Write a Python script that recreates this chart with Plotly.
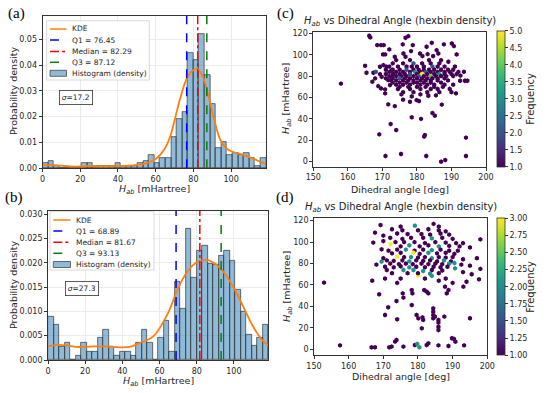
import plotly.graph_objects as go

# ---------------- data ----------------
H_MIN, H_MAX, N_BINS = 0.0, 118.5, 40

HIST_A = [0.002, 0.003, 0.001, 0, 0, 0, 0, 0.002, 0.002, 0.001,
          0.001, 0.001, 0.001, 0.002, 0.001, 0.001, 0.001, 0.002, 0.003, 0.005,
          0.002, 0.004, 0.004, 0.0123, 0.019, 0.022, 0.0446, 0.042, 0.052, 0.036,
          0.025, 0.008, 0.010, 0.005, 0.006, 0.005, 0.006, 0.004, 0.001, 0.004]
HIST_B = [0.009, 0.0072, 0.0027, 0.0036, 0, 0.0009, 0.0036, 0.0018, 0.0018, 0.0045,
          0.0063, 0.0027, 0.0009, 0.0018, 0.0018, 0.0009, 0.0036, 0.0063, 0.0036, 0,
          0.0045, 0.0081, 0.0018, 0.016, 0.0105, 0.027, 0.017, 0.0225, 0.0235, 0.0198,
          0.0197, 0.0215, 0.0225, 0.0205, 0.0145, 0.0100, 0.0052, 0.0029, 0.0046, 0.0072]

KDE_A_X = [0, 5, 10, 15, 20, 25, 30, 35, 40, 45, 50, 55, 60, 65, 68, 70.5, 73, 76, 79, 82,
           85, 88, 91, 94, 97, 100, 105, 110, 115, 118.5]
KDE_A_Y = [0.0012, 0.0013, 0.0010, 0.0007, 0.0007, 0.0009, 0.0008, 0.0008, 0.0009, 0.0010,
           0.0013, 0.0020, 0.0036, 0.0078, 0.013, 0.020, 0.027, 0.034, 0.0375, 0.0385,
           0.0355, 0.028, 0.019, 0.0115, 0.008, 0.0066, 0.0055, 0.0042, 0.0027, 0.0016]
KDE_B_X = [0, 5, 10, 15, 20, 25, 30, 35, 40, 45, 50, 55, 58, 60, 65, 70, 75, 80, 85, 90,
           95, 100, 105, 110, 115, 118.5]
KDE_B_Y = [0.0028, 0.0031, 0.0030, 0.0027, 0.0027, 0.0028, 0.0028, 0.0027, 0.0026, 0.0028,
           0.0036, 0.0044, 0.0054, 0.0065, 0.0100, 0.0148, 0.0182, 0.0201, 0.0206, 0.0198,
           0.0178, 0.0148, 0.0110, 0.0071, 0.0042, 0.0030]

Q_A = [76.45, 82.29, 87.12]
Q_B = [68.89, 81.67, 93.13]
SIGMA = [17.2, 27.3]

# hexbin cells of panel (c): dihedral angle, H_ab, count
HEX_C_X = [158.0, 166.2, 166.5, 168.5, 169.6, 170.4, 170.2, 170.8, 172.0, 176.7, 177.5, 175.9, 178.3,
           176.1, 176.7, 178.8, 180.9, 181.6, 182.8, 184.3, 185.7, 186.2, 187.8, 190.1, 190.7, 191.5,
           189.1, 173.6, 183.1, 184.7,
           165.0, 165.4, 167.4, 168.1, 167.1, 167.9, 168.8, 169.6, 169.3, 169.8, 170.8, 171.2, 170.3,
           171.7, 172.2, 170.8, 172.7, 173.2, 172.7, 169.3,
           174, 178, 183.5, 187,
           173, 176, 179, 181.5, 184, 186.5,
           172, 174.5, 177, 178.5, 180, 182, 184.5, 186, 188, 191,
           171, 173, 175, 177, 179, 180.5, 182, 183.5, 185, 187, 189, 190.5,
           172, 174, 176, 178, 179.5, 181, 182.5, 184, 186, 188, 189.5, 192,
           171, 173, 175, 176.5, 178, 180, 181.5, 183, 185, 186.5, 188, 190, 191.5,
           172, 174, 175.5, 177, 179, 180.5, 182, 184, 185.5, 187, 188.5, 190.5,
           171, 173, 175, 176.5, 178, 180, 181.5, 183, 184.5, 186, 188,
           172.5, 174, 176, 177.5, 179, 181, 182.5, 184, 186, 189,
           173, 175, 177, 179, 180, 182, 184, 187,
           174, 176, 178, 181, 183, 185, 188,
           175, 177.5, 180, 182.5, 185, 187.5,
           174.5, 178, 181, 184, 186,
           176, 179, 183, 186.5, 190,
           192.5, 193.9, 194.6, 193.6, 191.3, 192.6, 190.5, 189.5,
           176, 178, 179.9, 180.6, 171.7, 173.6, 183.3, 185.5, 187.2, 178.5, 181.2, 184.5, 185.2,
           175.5, 181, 178.5,
           172.4, 174, 169.1, 182.1, 182.3, 194.2, 170.9, 175.4, 182.7, 187, 188.2, 194.2]
HEX_C_Y = [73, 117.8, 116.2, 109, 109, 109, 100.3, 100.3, 105, 115.9, 117.4, 109.7, 103.4,
           101.2, 98.1, 109, 101.2, 98.8, 107.5, 111.2, 104.4, 101.2, 109.7, 110.6, 108.1, 100.3,
           93.5, 98.1, 100.6, 98.8,
           89.7, 83.2, 83.2, 84.1, 74.8, 77.9, 70.7, 68.5, 81.9, 79.4, 63.9, 88.8, 90.3,
           76.3, 71.7, 67.6, 85.7, 81.9, 78.8, 88.8,
           95, 95, 95, 95,
           92, 92, 92, 92, 92, 92,
           89, 89, 89, 89, 89, 89, 89, 89, 89, 89,
           86, 86, 86, 86, 86, 86, 86, 86, 86, 86, 86, 86,
           84, 84, 84, 84, 84, 84, 84, 84, 84, 84, 84, 84,
           82, 82, 82, 82, 82, 82, 82, 82, 82, 82, 82, 82, 82,
           80, 80, 80, 80, 80, 80, 80, 80, 80, 80, 80, 80,
           78, 78, 78, 78, 78, 78, 78, 78, 78, 78, 78,
           76, 76, 76, 76, 76, 76, 76, 76, 76, 76,
           74, 74, 74, 74, 74, 74, 74, 74,
           72, 72, 72, 72, 72, 72, 72,
           70, 70, 70, 70, 70, 70,
           68, 68, 68, 68, 68,
           65, 65, 65, 65, 65,
           75.7, 75.7, 75.7, 84.1, 63.9, 80.5, 72, 68,
           58, 56, 57.6, 56.7, 53.6, 52, 61.7, 62, 53.4, 41.5, 40, 45.5, 43,
           63, 63, 61,
           35.2, 29.6, 25.5, 23.4, 24.9, 22.5, 5.3, 7.2, 5.3, 0, 1.5, 5.3]
HEX_C_N = [1, 1, 1, 1, 1, 1, 1, 1, 1, 1, 1, 1, 1,
           1, 1, 1, 1, 1, 1, 1, 1, 1, 1, 1, 1, 1,
           1, 1, 1, 1,
           1, 1, 1, 2, 1, 1, 1, 1, 1, 1, 1, 1, 1,
           1, 1, 1, 1, 1, 1, 1,
           1, 1, 1, 1,
           1, 1, 2, 1, 1, 1,
           1, 1, 1, 1, 1, 1, 2, 1, 1, 1,
           1, 1, 1, 2, 1, 1, 1, 1, 1, 1, 1, 1,
           1, 1, 1, 1, 3, 1, 2, 1, 1, 1, 1, 1,
           1, 1, 1, 1, 2, 1, 5, 1, 1, 3, 1, 1, 1,
           1, 1, 1, 1, 1, 2, 1, 4, 1, 1, 1, 1,
           1, 1, 2, 1, 1, 1, 1, 1, 1, 1, 1,
           1, 1, 1, 1, 1, 1, 1, 1, 1, 1,
           1, 1, 1, 1, 1, 1, 1, 1,
           1, 1, 1, 1, 1, 1, 1,
           1, 1, 1, 1, 1, 1,
           1, 1, 1, 1, 1,
           1, 1, 1, 1, 1,
           1, 1, 1, 1, 1, 1, 1, 1,
           1, 1, 1, 1, 1, 1, 1, 1, 1, 1, 1, 1, 1,
           1, 1, 1,
           1, 1, 1, 1, 1, 1, 1, 1, 1, 1, 1, 1]

# hexbin cells of panel (d)
HEX_D_X = [152.9, 157.5, 166.6, 167.6, 166.8, 168.8, 170.5, 171.4, 174.0, 173.8, 175.8, 175.6,
           178.2, 178.4, 178.2, 179.6, 180.1, 181.1, 181.8, 182.5, 183.0,
           184.4, 184.4, 184.4, 184.4, 185.9, 185.9, 185.9, 185.9, 184.9, 187.6,
           188.8, 188.3, 187.8, 193.1, 195.0, 181.3, 181.5,
           172.4, 173.4, 173.8, 171.7, 175.8, 179.1, 179.8, 180.4, 182.5, 183.0, 185.9, 188.8,
           189.8, 190.4, 190.8, 193.3,
           174.0, 180.1, 184.0, 188.0, 190.0, 175.0, 182.0, 186.0, 170.5, 194.0, 197.6,
           169.2, 175.0, 179.1, 184.5, 186.0,
           172.5, 175.5, 180.0, 183.0, 186.0, 188.0,
           167.6, 170.0, 174.0, 177.0, 181.0, 183.5, 186.5, 189.0,
           172.0, 175.5, 178.0, 181.5, 184.0, 187.0, 190.0, 198.0,
           167.1, 170.0, 173.5, 176.0, 179.0, 182.0, 185.0, 188.0, 191.0, 193.0,
           172.1, 175.0, 177.5, 180.5, 183.0, 186.0, 189.0, 192.0, 195.0,
           169.5, 171.5, 174.0, 176.5, 179.0, 181.5, 184.0, 186.5, 189.0, 191.5,
           172.5, 175.0, 178.7, 180.5, 183.0, 185.5, 188.0, 190.5,
           170.0, 174.0, 176.0, 178.0, 180.0, 182.0, 184.0, 186.0, 188.0, 190.0, 193.0, 197.0,
           171.0, 173.0, 175.5, 177.5, 179.5, 181.5, 183.5, 185.5, 187.5, 189.5,
           168.0, 169.5, 172.0, 174.5, 176.5, 178.5, 181.0, 183.0, 185.0, 187.0, 189.0, 190.5,
           192.5, 195.0, 198.0,
           170.5, 173.0, 175.0, 177.5, 179.5, 182.0, 184.5, 186.5, 188.5,
           171.0, 175.8, 178.7, 181.5, 184.0, 187.0, 190.7, 193.0,
           172.5, 177.0, 180.0, 183.5, 186.0, 195.5]
HEX_D_Y = [62.2, 3.7, 1.9, 1.9, 64.0, 51.3, 32.0, 39.2, 28.0, 45.0, 48.2, 52.2,
           55.3, 52.2, 41.3, 32.0, 28.9, 19.6, 55.3, 53.8, 52.2,
           38.2, 35.1, 32.0, 28.9, 27.4, 24.9, 21.1, 18.0, 30.5, 30.5,
           55.3, 52.2, 58.4, 58.4, 29.0, 29.8, 27.4,
           2.5, 7.2, 8.7, 1.9, 2.5, 4.0, 5.0, 1.9, 4.0, 5.6, 3.7, 3.1,
           10.3, 9.6, 7.1, 3.7,
           62.0, 68.7, 68.5, 66.0, 62.0, 66.0, 66.0, 64.0, 66.0, 63.0, 65.3,
           115.9, 114.5, 115.3, 117.0, 114.5,
           112.0, 111.0, 111.0, 112.0, 111.0, 110.0,
           108.8, 106.0, 108.0, 107.5, 107.5, 107.0, 108.0, 107.0,
           104.0, 103.0, 104.0, 104.0, 103.5, 104.0, 103.0, 102.5,
           99.5, 101.0, 100.0, 100.0, 100.0, 99.0, 100.0, 99.5, 99.0, 99.0,
           98.2, 96.0, 97.0, 96.0, 97.0, 96.0, 96.5, 96.0, 95.0,
           93.3, 92.0, 93.0, 93.0, 92.0, 93.0, 92.5, 93.0, 92.0, 92.0,
           89.5, 90.0, 90.1, 89.0, 90.0, 89.5, 90.0, 89.0,
           85.0, 86.4, 86.0, 86.0, 85.5, 86.0, 85.0, 86.0, 85.5, 86.0, 84.0, 85.0,
           83.0, 82.5, 83.0, 82.0, 83.0, 82.5, 83.0, 82.0, 83.0, 82.0,
           79.0, 81.8, 80.0, 79.5, 80.0, 79.5, 80.0, 79.5, 80.0, 79.5, 80.0, 80.5,
           79.0, 78.0, 75.0,
           77.0, 76.5, 77.5, 76.5, 77.0, 76.5, 77.0, 76.5, 77.0,
           74.0, 74.0, 74.0, 73.0, 74.0, 73.5, 75.5, 72.0,
           71.0, 71.0, 71.0, 70.5, 71.0, 70.0]
HEX_D_N = [1, 1, 1, 1, 1, 1, 1, 1, 1, 1, 1, 1,
           1, 1, 1, 1, 1, 1, 1, 1, 1,
           1, 1, 1, 1, 1, 1, 1, 1, 1, 1,
           1, 1, 1, 1, 1, 1, 1,
           1, 1, 1, 1, 1, 1, 2, 2, 1, 1, 1, 1,
           1, 1, 1, 1,
           1, 3, 2, 1, 1, 1, 1, 1, 1, 1, 1,
           1, 1, 2, 1, 1,
           1, 1, 1, 1, 1, 1,
           1, 1, 1, 1, 1, 1, 1, 1,
           1, 1, 1, 1, 2, 1, 1, 1,
           1, 1, 1, 1, 1, 1, 1, 1, 1, 1,
           3, 1, 2, 1, 1, 2, 1, 1, 1,
           1, 1, 1, 2, 1, 1, 2, 1, 1, 1,
           1, 1, 3, 1, 2, 1, 1, 1,
           1, 3, 1, 2, 1, 1, 2, 1, 1, 1, 1, 1,
           1, 1, 1, 2, 1, 1, 1, 1, 2, 1,
           1, 2, 1, 1, 1, 1, 1, 1, 1, 1, 2, 2,
           1, 1, 1,
           1, 1, 1, 2, 1, 1, 1, 1, 1,
           1, 2, 2, 2, 1, 1, 2, 1,
           1, 1, 1, 2, 1, 1]

# ---------------- figure ----------------
W, H = 550, 393
FONT = "DejaVu Sans"
AX_COL = "#333333"
TXT = "#262626"
BAR_COL = "rgba(31,119,180,0.5)"
KDE_COL = "#ff7f0e"
Q_STYLES = [("Q1", "#0000ff", "dash"), ("Median", "#ff0000", "dashdot"), ("Q3", "#008000", "dash")]


def px_x(p):
    return p / W


def px_y(p):
    return 1 - p / H


bin_w = (H_MAX - H_MIN) / N_BINS
centers = [H_MIN + bin_w * (i + 0.5) for i in range(N_BINS)]

fig = go.Figure()

panels = [
    dict(hist=HIST_A, kx=KDE_A_X, ky=KDE_A_Y, q=Q_A, xa="x", ya="y", ymax=0.059),
    dict(hist=HIST_B, kx=KDE_B_X, ky=KDE_B_Y, q=Q_B, xa="x2", ya="y2", ymax=0.0307),
]
for p in panels:
    fig.add_trace(go.Bar(x=centers, y=p["hist"], width=bin_w,
                         marker=dict(color=BAR_COL, line=dict(color=AX_COL, width=0.7)),
                         xaxis=p["xa"], yaxis=p["ya"], showlegend=False))
    fig.add_trace(go.Scatter(x=p["kx"], y=p["ky"], mode="lines",
                             line=dict(color=KDE_COL, width=1.8, shape="spline", smoothing=1.0),
                             xaxis=p["xa"], yaxis=p["ya"], showlegend=False))
    for val, (lab, col, dash) in zip(p["q"], Q_STYLES):
        fig.add_trace(go.Scatter(x=[val, val], y=[0, p["ymax"]], mode="lines",
                                 line=dict(color=col, width=1.5, dash=dash),
                                 xaxis=p["xa"], yaxis=p["ya"], showlegend=False))


def cbar(ycen, length, tickvals, fmt):
    return dict(x=px_x(496.7), xanchor="left", y=px_y(ycen), yanchor="middle",
                len=length / H, thickness=8.3, xpad=0, ypad=0,
                outlinewidth=0.8, outlinecolor=AX_COL,
                tickvals=tickvals, tickformat=fmt, ticks="outside", ticklen=3, tickcolor=AX_COL,
                tickfont=dict(size=8, family=FONT, color=TXT))


fig.add_trace(go.Scatter(x=HEX_C_X, y=HEX_C_Y, mode="markers", xaxis="x3", yaxis="y3", showlegend=False,
                         marker=dict(symbol="hexagon", size=4.8, color=HEX_C_N, colorscale="Viridis", cmin=1, cmax=5,
                                     line=dict(width=0),
                                     colorbar=cbar(98.7, 136, [1.0, 1.5, 2.0, 2.5, 3.0, 3.5, 4.0, 4.5, 5.0], ".1f"))))
fig.add_trace(go.Scatter(x=HEX_D_X, y=HEX_D_Y, mode="markers", xaxis="x4", yaxis="y4", showlegend=False,
                         marker=dict(symbol="hexagon", size=4.8, color=HEX_D_N, colorscale="Viridis", cmin=1, cmax=3,
                                     line=dict(width=0),
                                     colorbar=cbar(286.7, 136.7, [1.0, 1.25, 1.5, 1.75, 2.0, 2.25, 2.5, 2.75, 3.0], ".2f"))))


def axis(domain, rng, anchor, tickvals, fmt=None, grid=False):
    d = dict(domain=domain, range=rng, anchor=anchor, tickvals=tickvals, automargin=False,
             showline=True, mirror=True, linecolor=AX_COL, linewidth=0.8,
             ticks="outside", ticklen=3, tickcolor=AX_COL, tickwidth=0.8,
             tickfont=dict(size=8, family=FONT, color=TXT),
             showgrid=grid, gridcolor="#ebebeb", gridwidth=0.7, zeroline=False, fixedrange=True)
    if fmt:
        d["tickformat"] = fmt
    return d


fig.update_layout(
    width=W, height=H, margin=dict(l=0, r=0, t=0, b=0, autoexpand=False),
    paper_bgcolor="white", plot_bgcolor="white", bargap=0, showlegend=False,
    font=dict(family=FONT, color=TXT),
    xaxis=axis([px_x(42.5), px_x(266)], [0, H_MAX], "y", [0, 20, 40, 60, 80, 100], grid=True),
    yaxis=axis([px_y(168.3), px_y(16)], [0, 0.059], "x", [0, 0.01, 0.02, 0.03, 0.04, 0.05], ".2f", grid=True),
    xaxis2=axis([px_x(48), px_x(268.3)], [0, H_MAX], "y2", [0, 20, 40, 60, 80, 100], grid=True),
    yaxis2=axis([px_y(360), px_y(210.7)], [0, 0.0307], "x2", [0, 0.005, 0.01, 0.015, 0.02, 0.025, 0.03], ".3f", grid=True),
    xaxis3=axis([px_x(313.3), px_x(486)], [150, 200], "y3", [150, 160, 170, 180, 190, 200]),
    yaxis3=axis([px_y(166.7), px_y(31.7)], [-4.7, 121.6], "x3", [0, 20, 40, 60, 80, 100, 120]),
    xaxis4=axis([px_x(314), px_x(487.3)], [150, 200], "y4", [150, 160, 170, 180, 190, 200]),
    yaxis4=axis([px_y(355), px_y(218.3)], [-5.3, 122.2], "x4", [0, 20, 40, 60, 80, 100, 120]),
)

ann = []
shapes = []


def text(t, x, y, size, angle=0, anchor="center", color=TXT, family=FONT, **kw):
    ann.append(dict(text=t, x=px_x(x), y=px_y(y), xref="paper", yref="paper", showarrow=False,
                    font=dict(size=size, family=family, color=color), textangle=angle,
                    xanchor=anchor, yanchor="middle", **kw))


# panel letters
for lab, x, y in [("(a)", 16, 14), ("(b)", 14, 197), ("(c)", 285, 14), ("(d)", 285, 197)]:
    text(lab, x, y, 15, family="Liberation Serif", color="black")

# axis titles
HLAB = "<i>H</i><sub><i>ab</i></sub> [mHartree]"
text("Probability density", 13, 91, 9.5, angle=-90)
text(HLAB, 154, 189.5, 9.5)
text("Probability density", 13, 285, 9.5, angle=-90)
text(HLAB, 158, 381, 9.5)
text(HLAB, 287, 99, 9.5, angle=-90)
text("Dihedral angle [deg]", 400, 189.5, 9.5)
text(HLAB, 287, 287, 9.5, angle=-90)
text("Dihedral angle [deg]", 400.6, 376, 9.5)
text("Frequency", 531, 98.7, 10, angle=-90)
text("Frequency", 531, 286.7, 10, angle=-90)

TITLE = "<i>H</i><sub><i>ab</i></sub> vs Dihedral Angle (hexbin density)"
text(TITLE, 399.6, 22, 10, color="#222")
text(TITLE, 400.6, 208, 10, color="#222")

# sigma boxes
for s, x, y in [(SIGMA[0], 76, 97.5), (SIGMA[1], 81.7, 288.5)]:
    text(f"<i>σ</i>={s}", x, y, 7.5, bordercolor="#333", borderwidth=0.8, borderpad=2, bgcolor="white")


# legends (drawn manually for matplotlib-like compact rows)
def legend(box, rows_y, sx0, sx1, tx, qvals):
    x0, y0, x1, y1 = box
    shapes.append(dict(type="rect", xref="paper", yref="paper", x0=px_x(x0), x1=px_x(x1), y0=px_y(y1), y1=px_y(y0),
                       line=dict(color="#d0d0d0", width=0.8), fillcolor="rgba(255,255,255,0.85)", layer="above"))
    labels = ["KDE"] + [f"{lab} = {v:.2f}" for v, (lab, _, _) in zip(qvals, Q_STYLES)] + ["Histogram (density)"]
    styles = [(KDE_COL, "solid")] + [(c, d) for (_, c, d) in Q_STYLES]
    for i, yy in enumerate(rows_y):
        if i < 4:
            col, dash = styles[i]
            shapes.append(dict(type="line", xref="paper", yref="paper", x0=px_x(sx0), x1=px_x(sx1),
                               y0=px_y(yy), y1=px_y(yy), line=dict(color=col, width=1.5, dash=dash), layer="above"))
        else:
            shapes.append(dict(type="rect", xref="paper", yref="paper", x0=px_x(sx0), x1=px_x(sx1),
                               y0=px_y(yy + 3), y1=px_y(yy - 3), line=dict(color=AX_COL, width=0.7),
                               fillcolor="rgb(143,187,217)", layer="above"))
        text(labels[i], tx, yy, 7.5, anchor="left")


legend((46.7, 20.7, 149.3, 80), [29, 40, 51.5, 62.3, 73.3], 50, 66.5, 70, Q_A)
legend((50, 211.7, 154, 270), [220, 231, 242.3, 253.3, 264.5], 53.3, 70.5, 74, Q_B)

fig.update_layout(annotations=ann, shapes=shapes)

fig.write_html("out.html", config={"displayModeBar": False},
               post_script="document.body.style.margin='0px';document.body.style.overflow='hidden';")
